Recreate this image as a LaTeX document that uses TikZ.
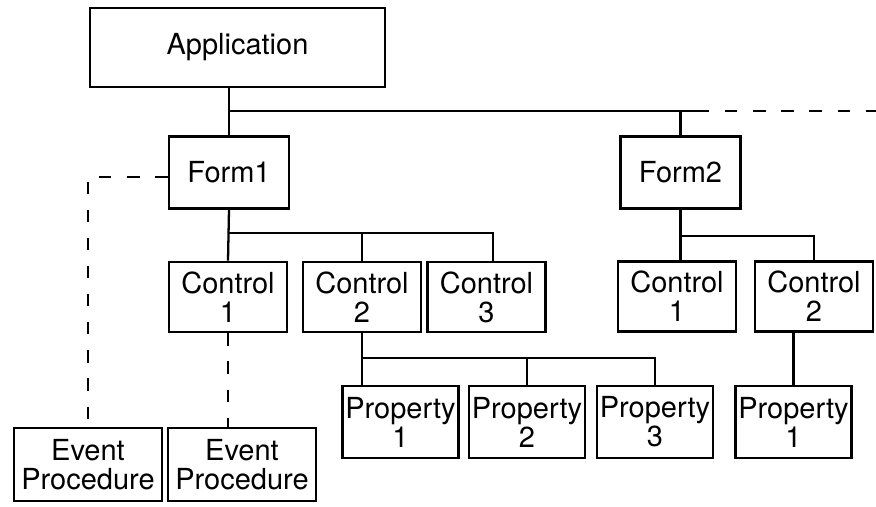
\documentclass[tikz,border=0pt]{standalone}
\usepackage{fontspec}
\setmainfont{TeX Gyre Heros}
\tikzset{
  box/.style={draw, line width=1.5pt, align=center, inner sep=0pt, font=\fontsize{16.5}{16.5}\selectfont},
  appbox/.style={box, minimum width=5.9cm, minimum height=1.58cm},
  formbox/.style={box, minimum width=2.4cm, minimum height=1.44cm},
  ctrlbox/.style={box, minimum width=2.36cm, minimum height=1.4cm},
  propbox/.style={box, minimum width=2.32cm, minimum height=1.44cm},
  eventbox/.style={box, minimum width=2.96cm, minimum height=1.46cm},
  link/.style={line width=1.3pt},
  eventlink/.style={link, dash pattern=on 7pt off 9pt}
}
\begin{document}
\begin{tikzpicture}[x=0.02cm, y=-0.02cm]
  \useasboundingbox (0,0) rectangle (876,507);

  % Application and forms
  \node[appbox] (app) at (237.5,47.5) {Application};
  \node[formbox] (form1) at (229,172.5) {Form1};
  \node[formbox] (form2) at (680.5,172.5) {Form2};

  % Controls
  \foreach \pos/\name/\txt in {{(228,297)/ctrl1/Control\\1}, {(362,297)/ctrl2/Control\\2},
      {(486.5,297)/ctrl3/Control\\3}, {(677,296.5)/f2ctrl1/Control\\1}, {(814,296.5)/f2ctrl2/Control\\2}} {
    \node[ctrlbox] (\name) at \pos {\txt};
  }

  % Properties
  \foreach \pos/\name/\txt in {{(400.5,422)/prop1/Property\\1}, {(527,422)/prop2/Property\\2},
      {(655,422)/prop3/Property\\3}, {(793.5,422)/f2prop1/Property\\1}} {
    \node[propbox] (\name) at \pos {\txt};
  }

  % Event procedures
  \node[eventbox] (ev1) at (88,464.5) {Event\\Procedure};
  \node[eventbox] (ev2) at (242,464.5) {Event\\Procedure};

  % Buses
  \coordinate (appbus) at (229,111);
  \coordinate (dashstart) at (697,111);
  \coordinate (append) at (876,111);
  \coordinate (f1bus) at (229,233);
  \coordinate (f2bus) at (681,236);
  \coordinate (c2bus) at (362,358);

  % Tree edges
  \draw[link] (form1.north |- app.south) -- (form1.north);
  \draw[link] (appbus) -- (dashstart);
  \draw[eventlink] (dashstart) -- (append);
  \draw[link] (form2.north) -- (form2.north |- appbus);
  \draw[link] (form1.south) -- (ctrl1.north);
  \draw[link] (f1bus) -| ([xshift=0.13cm]ctrl3.north);
  \draw[link] (ctrl2.north) -- (ctrl2.north |- f1bus);
  \draw[link] (form2.south) -- (form2.south |- f2ctrl1.north);
  \draw[link] (f2bus) -| (f2ctrl2.north);
  \draw[link] (ctrl2.south) -- (ctrl2.south |- prop1.north);
  \draw[link] (c2bus) -| (prop3.north);
  \draw[link] (prop2.north) -- (prop2.north |- c2bus);
  \draw[link] (f2prop1.north) -- (f2prop1.north |- f2ctrl2.south);

  % Event links
  \draw[eventlink] ([yshift=-0.09cm]form1.west) -| (ev1.north);
  \draw[eventlink] (ctrl1.south) -- (ctrl1.south |- ev2.north);
\end{tikzpicture}
\end{document}
